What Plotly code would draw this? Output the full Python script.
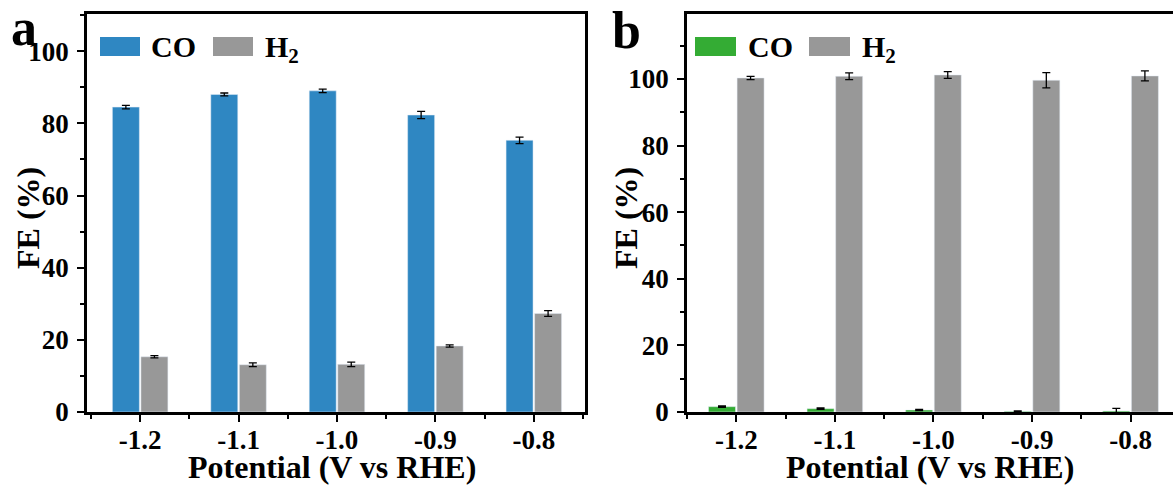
import plotly.graph_objects as go
from plotly.subplots import make_subplots

# ---------------- data ----------------
potentials = [-1.2, -1.1, -1.0, -0.9, -0.8]
tick_labels = ["-1.2", "-1.1", "-1.0", "-0.9", "-0.8"]

a_co = [84.5, 88.0, 89.0, 82.3, 75.3]
a_co_err = [0.5, 0.4, 0.5, 1.0, 0.9]
a_h2 = [15.3, 13.1, 13.2, 18.3, 27.3]
a_h2_err = [0.3, 0.5, 0.6, 0.3, 0.8]

b_co = [1.6, 1.0, 0.6, 0.2, 0.3]
b_co_err = [0.2, 0.2, 0.2, 0.1, 0.8]
b_h2 = [100.3, 100.8, 101.2, 99.6, 100.9]
b_h2_err = [0.5, 1.0, 1.0, 2.3, 1.5]

BLUE = "#2F87C2"
GREEN = "#34AC34"
GRAY = "#989898"
FONT = "Liberation Serif"

W, H = 1173, 486


def px(x):
    return x / W


def py(y):
    return (H - y) / H


fig = make_subplots(rows=1, cols=2)

err_style = dict(type="data", visible=True, color="black", thickness=1.3, width=4)

fig.add_trace(go.Bar(x=potentials, y=a_co, name="CO", marker_color=BLUE,
                     error_y=dict(array=a_co_err, **err_style), showlegend=False), row=1, col=1)
fig.add_trace(go.Bar(x=potentials, y=a_h2, name="H2", marker_color=GRAY,
                     error_y=dict(array=a_h2_err, **err_style), showlegend=False), row=1, col=1)
fig.add_trace(go.Bar(x=potentials, y=b_co, name="CO", marker_color=GREEN,
                     error_y=dict(array=b_co_err, **err_style), showlegend=False), row=1, col=2)
fig.add_trace(go.Bar(x=potentials, y=b_h2, name="H2", marker_color=GRAY,
                     error_y=dict(array=b_h2_err, **err_style), showlegend=False), row=1, col=2)

tickfont = dict(family=FONT, size=27, color="black", weight="bold")

xcommon = dict(tickmode="array", tickvals=potentials, ticktext=tick_labels,
               showline=True, linecolor="black", linewidth=2.5,
               ticks="outside", ticklen=7, tickwidth=2, tickcolor="black",
               minor=dict(tickmode="linear", tick0=-1.25, dtick=0.1, ticks="outside",
                          ticklen=4, tickwidth=2, tickcolor="black"),
               tickfont=tickfont, showgrid=False, zeroline=False,
               ticklabelstandoff=-5, automargin=False)
ycommon = dict(showline=True, linecolor="black", linewidth=2.5,
               ticks="outside", ticklen=7, tickwidth=2, tickcolor="black",
               tickmode="linear", tick0=0, dtick=20,
               minor=dict(tickmode="linear", tick0=10, dtick=20, ticks="outside",
                          ticklen=4, tickwidth=2, tickcolor="black"),
               tickfont=tickfont, showgrid=False, zeroline=False,
               ticklabelstandoff=3, automargin=False)

fig.update_xaxes(**xcommon, range=[-1.254, -0.748], mirror=True,
                 domain=[px(87), px(585)], row=1, col=1)
fig.update_xaxes(**xcommon, range=[-1.25, -0.757], mirror=True,
                 domain=[px(687), 1.0], row=1, col=2)
fig.update_yaxes(**ycommon, range=[0, 110.3], mirror=True,
                 domain=[py(412), py(14)], row=1, col=1)
fig.update_yaxes(**ycommon, range=[0, 119.5], mirror=False,
                 domain=[py(412), py(14)], row=1, col=2)

titlefont = dict(family=FONT, size=32, color="black", weight="bold")
legfont = dict(family=FONT, size=30, color="black", weight="bold")

annotations = [
    dict(text="Potential (V vs RHE)", x=px(332), y=py(467), xref="paper", yref="paper",
         showarrow=False, font=titlefont, xanchor="center", yanchor="middle"),
    dict(text="Potential (V vs RHE)", x=px(930), y=py(467), xref="paper", yref="paper",
         showarrow=False, font=titlefont, xanchor="center", yanchor="middle"),
    dict(text="FE (%)", x=px(28), y=py(218), xref="paper", yref="paper", textangle=-90,
         showarrow=False, font=titlefont, xanchor="center", yanchor="middle"),
    dict(text="FE (%)", x=px(626), y=py(218), xref="paper", yref="paper", textangle=-90,
         showarrow=False, font=titlefont, xanchor="center", yanchor="middle"),
    dict(text="a", x=px(24), y=py(28), xref="paper", yref="paper",
         showarrow=False, font=dict(family=FONT, size=52, color="black", weight="bold"),
         xanchor="center", yanchor="middle"),
    dict(text="b", x=px(626), y=py(30), xref="paper", yref="paper",
         showarrow=False, font=dict(family=FONT, size=52, color="black", weight="bold"),
         xanchor="center", yanchor="middle"),
    # legend labels
    dict(text="CO", x=px(149), y=py(46), xref="paper", yref="paper",
         showarrow=False, font=legfont, xanchor="left", yanchor="middle"),
    dict(text="H<sub>2</sub>", x=px(263), y=py(49), xref="paper", yref="paper",
         showarrow=False, font=legfont, xanchor="left", yanchor="middle"),
    dict(text="CO", x=px(746), y=py(46), xref="paper", yref="paper",
         showarrow=False, font=legfont, xanchor="left", yanchor="middle"),
    dict(text="H<sub>2</sub>", x=px(860), y=py(49), xref="paper", yref="paper",
         showarrow=False, font=legfont, xanchor="left", yanchor="middle"),
]

shapes = []
for (x0, x1, col) in [(100, 140, BLUE), (213, 253, GRAY), (695, 736, GREEN), (809, 850, GRAY)]:
    shapes.append(dict(type="rect", xref="paper", yref="paper",
                       x0=px(x0), x1=px(x1), y0=py(56), y1=py(37),
                       fillcolor=col, line=dict(width=0)))

fig.update_layout(
    width=W, height=H,
    margin=dict(l=0, r=0, t=0, b=0, autoexpand=False),
    paper_bgcolor="white", plot_bgcolor="white",
    barmode="group", bargap=0.42, bargroupgap=0.055,
    annotations=annotations, shapes=shapes,
    font=dict(family=FONT, color="black"),
)

fig.write_html("out.html")
